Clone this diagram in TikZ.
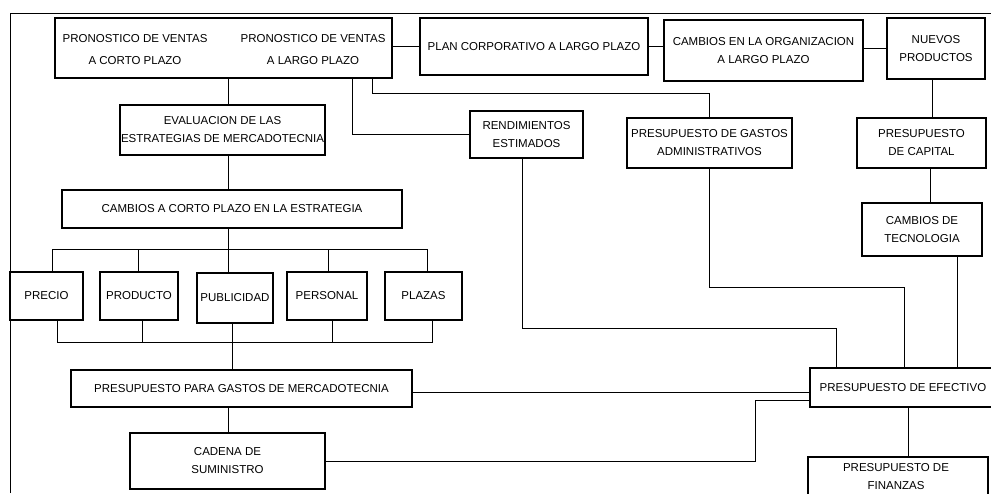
\documentclass[tikz,border=0pt]{standalone}
\usepackage{fontspec}
\setmainfont{Liberation Sans}
\usetikzlibrary{calc}
\newcommand\diaglbl{\fontsize{11.5}{18}\selectfont}
\begin{document}
\begin{tikzpicture}[x=1pt,y=-1pt,
  box/.style={draw, line width=1.6pt, inner sep=0pt, align=center, font=\diaglbl},
  thinbox/.style={box, line width=1.2pt},
  lbl/.style={inner sep=0pt, align=center, font=\diaglbl},
  wire/.style={line width=0.9pt}]
\useasboundingbox[fill=white] (0,0) rectangle (991,493);

% --- top row: forecasts and long-range plans
\node[box, minimum width=337, minimum height=60] (pron) at (223.5,48) {};
\node[lbl, font=\fontsize{11.5}{22}\selectfont] (pcorto) at (135,50) {PRONOSTICO DE VENTAS\\A CORTO PLAZO};
\node[lbl, font=\fontsize{11.5}{22}\selectfont] (plargo) at (313,50) {PRONOSTICO DE VENTAS\\A LARGO PLAZO};
\node[box, minimum width=228, minimum height=57] (plan) at (534,46.5) {PLAN CORPORATIVO A LARGO PLAZO};
\node[box, minimum width=199, minimum height=61] (corg) at (763.5,50.5) {CAMBIOS EN LA ORGANIZACION\\A LARGO PLAZO};
\node[box, minimum width=98, minimum height=61] (nuevos) at (936,48.5) {NUEVOS\\PRODUCTOS};

% --- second level
\node[box, minimum width=205, minimum height=50] (eval) at (222.5,130) {EVALUACION DE LAS\\ESTRATEGIAS DE MERCADOTECNIA};
\node[box, minimum width=113, minimum height=47] (rend) at (526.5,134.5) {RENDIMIENTOS\\ESTIMADOS};
\node[thinbox, minimum width=165, minimum height=50] (admin) at (709.5,143) {PRESUPUESTO DE GASTOS\\ADMINISTRATIVOS};
\node[box, minimum width=129, minimum height=50] (capital) at (921.5,143) {PRESUPUESTO\\DE CAPITAL};
\node[box, minimum width=340, minimum height=38] (corto) at (232,209) {CAMBIOS A CORTO PLAZO EN LA ESTRATEGIA};
\node[box, minimum width=120, minimum height=53] (tecno) at (922,229.5) {CAMBIOS DE\\TECNOLOGIA};

% --- marketing mix
\node[box, minimum width=73, minimum height=48] (precio) at (46.5,296) {PRECIO};
\node[box, minimum width=78, minimum height=48] (producto) at (139,296) {PRODUCTO};
\node[box, minimum width=76, minimum height=50] (publicidad) at (235,298) {PUBLICIDAD};
\node[box, minimum width=80, minimum height=48] (personal) at (327,296) {PERSONAL};
\node[box, minimum width=77, minimum height=48] (plazas) at (423.5,296) {PLAZAS};

% --- budgets
\node[thinbox, minimum width=341, minimum height=37] (merc) at (241.5,388.5) {PRESUPUESTO PARA GASTOS DE MERCADOTECNIA};
\node[box, minimum width=195, minimum height=56] (cadena) at (227.5,461) {CADENA DE\\SUMINISTRO};
\node[thinbox, minimum width=186, minimum height=39] (efectivo) at (903,387.5) {PRESUPUESTO DE EFECTIVO};
\node[thinbox, minimum width=180, minimum height=53] (fin) at (898,483.5) {};
\node[lbl] (fintxt) at (896,476.5) {PRESUPUESTO DE\\FINANZAS};

% --- outer frame
\draw[wire] (10,493) -- (10,13) -- (991,13);

% --- connectors, top row
\draw[wire] (plan.west) -- (plan.west -| pron.east);
\draw[wire] (plan.east) -- (plan.east -| corg.west);
\draw[wire] (nuevos.west) -- (nuevos.west -| corg.east);
\coordinate (nv) at ($(nuevos.south)+(-4,0)$);
\draw[wire] (nv) -- (nv |- capital.north);
\coordinate (cp) at ($(capital.south)+(8.5,0)$);
\draw[wire] (cp) -- (cp |- tecno.north);
\coordinate (tc) at ($(tecno.south)+(35,0)$);
\draw[wire] (tc) -- (tc |- efectivo.north);

% --- left spine
\coordinate (spine) at ($(eval.north)+(5.5,0)$);
\draw[wire] (spine |- pron.south) -- (spine |- eval.north);
\draw[wire] (spine |- eval.south) -- (spine |- corto.north);
\draw[wire] (spine |- corto.south) -- (spine |- publicidad.north);

% --- routes from the long-range forecast
\coordinate (pr1) at ($(pron.south)+(128.5,0)$);
\draw[wire] (pr1) |- (rend.west);
\coordinate (pr2) at ($(pron.south)+(148.5,0)$);
\draw[wire] (pr2) -- ++(0,15) -| (admin.north);

% --- marketing mix buses
\draw[wire] ([xshift=5.5pt]precio.north) -- ++(0,-22) -| ([xshift=3.5pt]plazas.north);
\draw[wire] ([xshift=-1pt]producto.north) -- ++(0,-22);
\draw[wire] ([xshift=1pt]personal.north) -- ++(0,-22);
\draw[wire] ([xshift=10.5pt]precio.south) -- ++(0,22) -| ([xshift=8.5pt]plazas.south);
\draw[wire] ([xshift=3pt]producto.south) -- ++(0,22);
\draw[wire] ([xshift=5pt]personal.south) -- ++(0,22);
\coordinate (spineb) at ($(publicidad.south)+(-3,0)$);
\draw[wire] (spineb) -- (spineb |- merc.north);
\draw[wire] (spine |- merc.south) -- (spine |- cadena.north);

% --- into the cash budget
\coordinate (m1) at ($(merc.east)+(0,3.5)$);
\draw[wire] (m1) -- (m1 -| efectivo.west);
\draw[wire] (cadena.east) -- ++(430,0) |- ([yshift=-12.5pt]efectivo.west);
\draw[wire] ([xshift=-4pt]rend.south) -- ++(0,170) -| ([xshift=-67pt]efectivo.north);
\draw[wire] (admin.south) -- ++(0,119) -| ([xshift=1pt]efectivo.north);
\coordinate (ef) at ($(efectivo.south)+(5,0)$);
\draw[wire] (ef) -- (ef |- fin.north);
\end{tikzpicture}
\end{document}
